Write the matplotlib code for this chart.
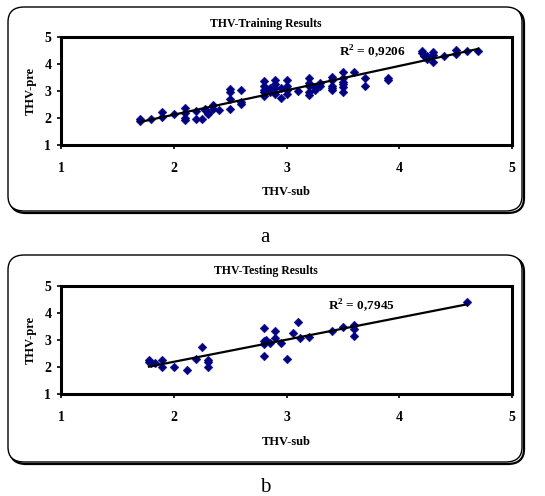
import numpy as np
import matplotlib
matplotlib.use("Agg")
import matplotlib.pyplot as plt
from matplotlib.patches import FancyBboxPatch

plt.rcParams['font.family'] = ['Liberation Serif', 'DejaVu Serif']
plt.rcParams['mathtext.fontset'] = 'custom'
plt.rcParams['mathtext.rm'] = 'Liberation Serif:bold'
plt.rcParams['mathtext.bf'] = 'Liberation Serif:bold'

# ---- data ----
train_x = [1.7, 1.7, 1.8, 1.9, 1.9, 2.0, 2.1, 2.1, 2.1, 2.1, 2.2, 2.2, 2.25, 2.28, 2.28,
           2.3, 2.3, 2.35, 2.35, 2.4, 2.5, 2.5, 2.5, 2.5, 2.6, 2.6, 2.6, 2.8, 2.8, 2.8,
           2.8, 2.8, 2.85, 2.85, 2.9, 2.9, 2.9, 2.9, 2.95, 2.95, 3.0, 3.0, 3.0, 3.0, 3.1,
           3.2, 3.2, 3.2, 3.2, 3.2, 3.25, 3.25, 3.3, 3.3, 3.4, 3.4, 3.4, 3.4, 3.4, 3.5,
           3.5, 3.5, 3.5, 3.5, 3.5, 3.6, 3.7, 3.7, 3.9, 3.9, 4.2, 4.2, 4.22, 4.25, 4.25,
           4.3, 4.3, 4.3, 4.4, 4.5, 4.5, 4.6, 4.7]
train_y = [1.88, 1.97, 1.97, 2.22, 2.02, 2.15, 2.36, 2.2, 2.0, 1.93, 2.27, 1.97, 1.97, 2.35, 2.28,
           2.2, 2.15, 2.48, 2.35, 2.3, 3.07, 2.95, 2.71, 2.35, 3.03, 2.6, 2.52, 3.38, 3.2, 3.05,
           2.95, 2.8, 3.1, 2.95, 3.42, 3.25, 3.1, 2.9, 3.1, 2.75, 3.42, 3.2, 3.05, 2.9, 3.0,
           3.5, 3.3, 3.2, 2.95, 2.85, 3.15, 3.05, 3.3, 3.2, 3.52, 3.4, 3.2, 3.1, 3.05, 3.7,
           3.5, 3.35, 3.25, 3.15, 2.98, 3.7, 3.5, 3.2, 3.5, 3.42, 4.47, 4.4, 4.3, 4.3, 4.2,
           4.45, 4.35, 4.08, 4.28, 4.52, 4.38, 4.5, 4.5]

test_x = [1.78, 1.78, 1.8, 1.83, 1.9, 1.9, 2.0, 2.12, 2.2, 2.25, 2.3, 2.3, 2.3,
          2.8, 2.8, 2.8, 2.8, 2.82, 2.85, 2.9, 2.9, 2.95, 3.0, 3.06, 3.1, 3.12,
          3.2, 3.4, 3.5, 3.6, 3.6, 3.6, 4.6]
test_y = [2.26, 2.18, 2.15, 2.13, 2.26, 1.99, 2.01, 1.9, 2.29, 2.73, 2.26, 2.2, 1.99,
          3.43, 2.96, 2.84, 2.39, 3.0, 2.88, 3.35, 3.06, 2.88, 2.28, 3.27, 3.66, 3.09,
          3.12, 3.34, 3.47, 3.55, 3.42, 3.15, 4.39]

titles = ["THV-Training Results", "THV-Testing Results"]
r2_labels = [r"R$^{\mathbf{2}}$ = 0,9206", r"R$^{\mathbf{2}}$ = 0,7945"]
panel_labels = ["a", "b"]
ticks = [1, 2, 3, 4, 5]

W, H = 545, 496
fig = plt.figure(figsize=(W / 100, H / 100), dpi=100)

def fx(px):
    return px / W

def fy(py):
    return 1 - py / H

panels = [
    dict(x=train_x, y=train_y, box=(8, 7, 522, 211), ax=(61, 37, 512, 145),
         title_y=24, xlabel_y=192, r2_pos=(3.47, 4.47), lab_y=238),
    dict(x=test_x, y=test_y, box=(8, 255, 522, 462), ax=(61, 286, 512, 394),
         title_y=271, xlabel_y=442, r2_pos=(3.37, 4.29), lab_y=487),
]

for i, p in enumerate(panels):
    bx0, by0, bx1, by1 = p['box']
    sh = FancyBboxPatch((fx(bx0 + 2), fy(by1 + 2)), fx(bx1 - bx0), (by1 - by0) / H,
                        boxstyle="round,pad=0,rounding_size=0.03",
                        transform=fig.transFigure, facecolor='none',
                        edgecolor='black', linewidth=1.6, zorder=0)
    fig.patches.append(sh)
    bb = FancyBboxPatch((fx(bx0), fy(by1)), fx(bx1 - bx0), (by1 - by0) / H,
                        boxstyle="round,pad=0,rounding_size=0.03",
                        transform=fig.transFigure, facecolor='white',
                        edgecolor='black', linewidth=1.0, zorder=1)
    fig.patches.append(bb)

    ax0, ay0, ax1, ay1 = p['ax']
    ax = fig.add_axes([fx(ax0), fy(ay1), fx(ax1 - ax0), (ay1 - ay0) / H])
    ax.set_zorder(2)
    x = np.array(p['x'])
    y = np.array(p['y'])
    ax.scatter(x, y, marker='D', s=20, color='#000080', edgecolors='#000080',
               linewidths=0.3, zorder=3, clip_on=False)
    m, c = np.polyfit(x, y, 1)
    xs = np.array([x.min(), x.max()])
    ax.plot(xs, m * xs + c, color='black', lw=1.6, zorder=4)
    ax.set_xlim(1, 5)
    ax.set_ylim(1, 5)
    ax.set_xticks(ticks)
    ax.set_yticks(ticks)
    ax.set_xticklabels([str(t) for t in ticks])
    ax.set_yticklabels([str(t) for t in ticks])
    for s in ax.spines.values():
        s.set_linewidth(2.2)
    ax.tick_params(axis='both', direction='out', length=3, width=1.2,
                   labelsize=10)
    ax.tick_params(axis='x', pad=9)
    ax.tick_params(axis='y', pad=4)
    for lbl in ax.get_xticklabels() + ax.get_yticklabels():
        lbl.set_fontweight('bold')
    ax.text(p['r2_pos'][0], p['r2_pos'][1], r2_labels[i], fontsize=9.5,
            fontweight='bold', va='center', ha='left', zorder=5)

    fig.text(fx(266), fy(p['title_y']), titles[i], ha='center', va='center',
             fontsize=8.5, fontweight='bold')
    fig.text(fx((ax0 + ax1) / 2), fy(p['xlabel_y']), "THV-sub", ha='center',
             va='center', fontsize=9, fontweight='bold')
    fig.text(fx(31), fy((ay0 + ay1) / 2), "THV-pre", ha='center', va='center',
             rotation=90, fontsize=9, fontweight='bold')
    fig.text(fx(265), fy(p['lab_y']), panel_labels[i], ha='center', va='center',
             fontsize=15)

fig.savefig("out.png", dpi=100)
